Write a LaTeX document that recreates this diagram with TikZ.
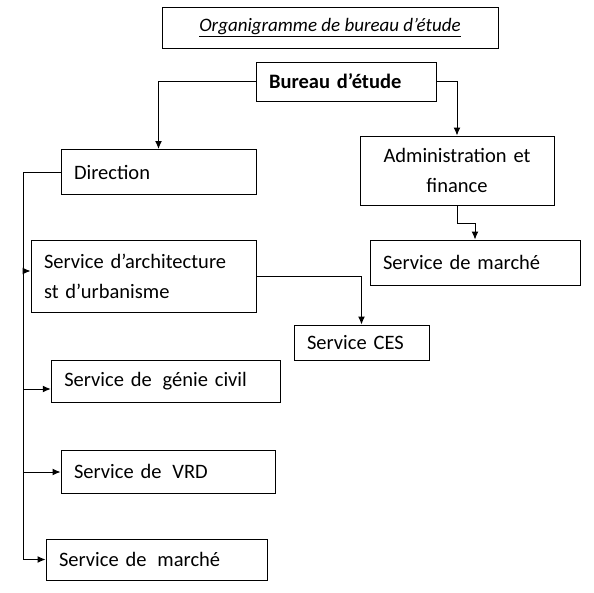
\documentclass[tikz,border=0pt]{standalone}
\usepackage{fontspec}
\setmainfont{Carlito}
\usetikzlibrary{arrows}
\usetikzlibrary{arrows.meta}
\usetikzlibrary{shapes}

\begin{document}
\begin{tikzpicture}[x = 1pt, y = -1pt, line width = 1pt, >={Latex[length = 8pt, width = 7pt]}]
	\tikzstyle{boxStyle} = [draw, rectangle, inner xsep = 13pt, inner ysep = 0pt, align = left, font = \fontsize{20.5}{30}\selectfont]
	\tikzstyle{titleStyle} = [draw, rectangle, inner sep = 0pt, align = center, font = \fontsize{19}{22}\selectfont\itshape]
	\tikzstyle{linkStyle} = [draw, ->]
	\useasboundingbox (0,0) rectangle (594,592);
	\node[titleStyle, minimum width = 336pt, minimum height = 41pt] (title) at (330, 27.5) {\underline{Organigramme de bureau d’étude}};
	\node[boxStyle, text width = 154pt, minimum height = 39pt, font = \fontsize{20.5}{30}\selectfont\bfseries] (bureau) at (346, 81.5) {Bureau d’étude};
	\node[boxStyle, text width = 169pt, minimum height = 45pt] (direction) at (158.5, 172) {Direction};
	\node[boxStyle, text width = 168pt, minimum height = 69pt, align = center] (admin) at (457, 170.5) {Administration et\\finance};
	\node[boxStyle, text width = 184pt, minimum height = 45pt] (marcheA) at (475, 262.5) {Service de marché};
	\node[boxStyle, text width = 199pt, minimum height = 72pt] (archi) at (143.5, 276) {Service d’architecture\\st d’urbanisme};
	\node[boxStyle, text width = 109pt, minimum height = 35pt] (ces) at (361.5, 342.5) {Service CES};
	\node[boxStyle, text width = 203.5pt, minimum height = 42pt] (genie) at (166, 381) {Service de\hspace{4pt} génie civil};
	\node[boxStyle, text width = 188pt, minimum height = 43pt] (vrd) at (168, 471.5) {Service de\hspace{4pt} VRD};
	\node[boxStyle, text width = 195pt, minimum height = 41pt] (marcheB) at (156.5, 559.5) {Service de\hspace{4pt} marché};
	\coordinate (rail) at (23, 559.5);
	\coordinate (r1) at (23, 271);
	\coordinate (r2) at (23, 389);
	\coordinate (r3) at (23, 472);
	\draw[linkStyle] (bureau.west) -| (direction.north);
	\draw[linkStyle] (bureau.east) -| (admin.north);
	\draw[linkStyle] (admin.south) -- ++(0, 18) -| (marcheA.north);
	\draw[linkStyle] (archi.east) -| (ces.north);
	\draw[linkStyle] (direction.west) -| (rail) -- (marcheB.west);
	\draw[linkStyle] (r1) -- (r1 -| archi.west);
	\draw[linkStyle] (r2) -- (r2 -| genie.west);
	\draw[linkStyle] (r3) -- (r3 -| vrd.west);
\end{tikzpicture}
\end{document}
